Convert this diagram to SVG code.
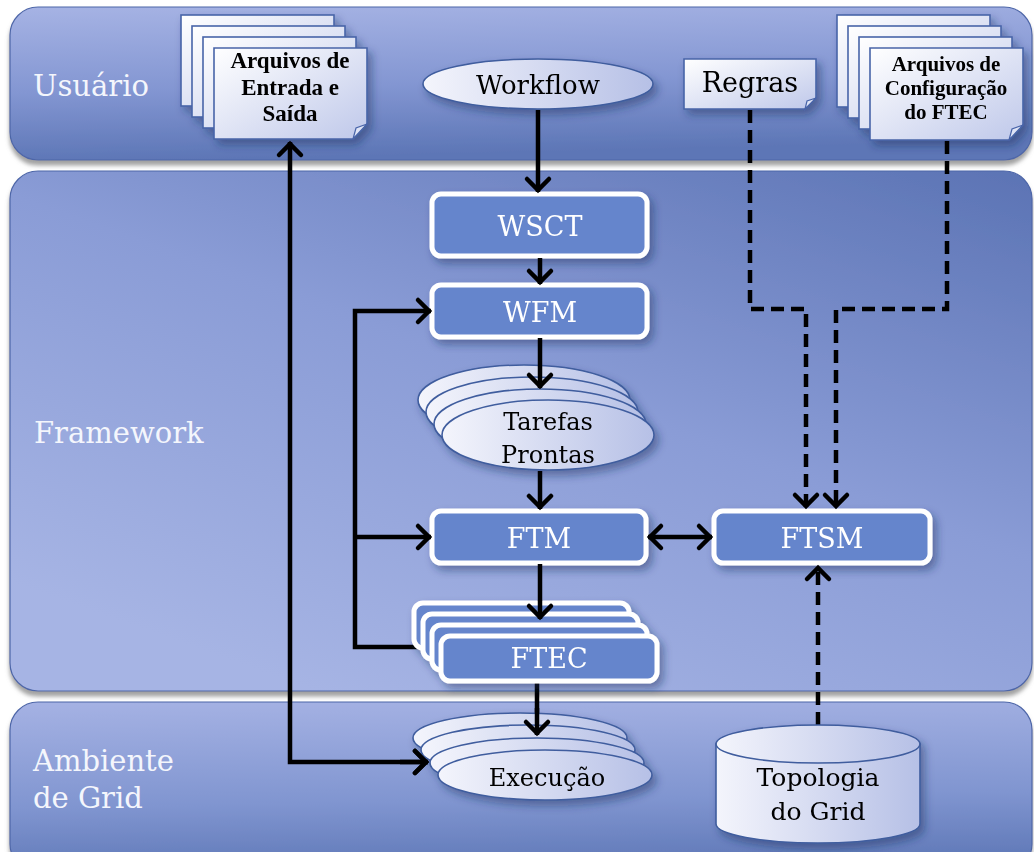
<svg xmlns="http://www.w3.org/2000/svg" width="1034" height="852" viewBox="0 0 1034 852">
<defs>
<style>
.band{stroke:#4d66a8;stroke-width:1.2}
.lbl{font-family:"DejaVu Serif","Liberation Serif",serif;fill:#f4f6fc;font-size:29px}
.box{fill:#6585cc;stroke:#ffffff;stroke-width:5}
.boxt{font-family:"DejaVu Serif","Liberation Serif",serif;fill:#ffffff;font-size:27px;text-anchor:middle}
.sheet{fill:url(#gSheet);stroke:#4864a8;stroke-width:1.6}
.fold{fill:#dfe4f6;stroke:#4864a8;stroke-width:1.2}
.ell{fill:url(#gEll);stroke:#3f5d9e;stroke-width:1.6}
.dt{font-family:"Liberation Serif",serif;font-weight:bold;fill:#000;text-anchor:middle}
.nt{font-family:"DejaVu Serif","Liberation Serif",serif;fill:#000;text-anchor:middle}
.conn{fill:none;stroke:#000;stroke-width:4.5}
.dash{stroke-dasharray:13 7}
</style>
<linearGradient id="gTop" x1="0" y1="0" x2="0.15" y2="1">
<stop offset="0" stop-color="#a6b3e4"/><stop offset="0.55" stop-color="#8396d2"/><stop offset="1" stop-color="#5d76b6"/>
</linearGradient>
<linearGradient id="gMid" x1="1" y1="0" x2="0.3" y2="1">
<stop offset="0" stop-color="#5b73b4"/><stop offset="0.5" stop-color="#8a9cd6"/><stop offset="1" stop-color="#a6b4e4"/>
</linearGradient>
<linearGradient id="gBot" x1="0.2" y1="0" x2="0.3" y2="1">
<stop offset="0" stop-color="#a4b1e3"/><stop offset="0.6" stop-color="#8095d0"/><stop offset="1" stop-color="#5f78b7"/>
</linearGradient>
<linearGradient id="gSheet" x1="0" y1="0" x2="1" y2="1">
<stop offset="0" stop-color="#ffffff"/><stop offset="1" stop-color="#bfc8ea"/>
</linearGradient>
<linearGradient id="gEll" x1="0" y1="0" x2="1" y2="0">
<stop offset="0" stop-color="#f4f5fc"/><stop offset="1" stop-color="#b6c0e6"/>
</linearGradient>
<filter id="bShadow" x="-5%" y="-5%" width="110%" height="115%">
<feDropShadow dx="0" dy="5" stdDeviation="2" flood-color="#8a8a8a" flood-opacity="0.8"/>
</filter>
<filter id="nShadow" x="-20%" y="-20%" width="140%" height="150%">
<feDropShadow dx="4" dy="5" stdDeviation="4" flood-color="#1c2a5c" flood-opacity="0.45"/>
</filter>
<marker id="ah" markerUnits="userSpaceOnUse" markerWidth="40" markerHeight="40" refX="0" refY="0" orient="auto-start-reverse" overflow="visible">
<path d="M-13,-11 L-2,0 L-13,11" fill="none" stroke="#000" stroke-width="4.5" stroke-dasharray="none" stroke-linecap="round"/>
</marker>
</defs>
<rect x="0" y="0" width="1034" height="852" fill="#ffffff"/>

<g id="bands">
<rect class="band" x="10" y="7" width="1022" height="153" rx="28" fill="url(#gTop)" filter="url(#bShadow)"/>
<rect class="band" x="10" y="171" width="1022" height="520" rx="28" fill="url(#gMid)" filter="url(#bShadow)"/>
<rect class="band" x="10" y="702" width="1022" height="170" rx="28" fill="url(#gBot)" filter="url(#bShadow)"/>
<text class="lbl" x="33" y="96">Usuário</text>
<text class="lbl" x="34" y="443" font-size="28">Framework</text>
<text class="lbl" x="33" y="771">Ambiente</text>
<text class="lbl" x="33" y="808">de Grid</text>
</g>

<g id="arquivos-es" filter="url(#nShadow)">
<rect class="sheet" x="181" y="15" width="153" height="91"/>
<rect class="sheet" x="192" y="26" width="153" height="91"/>
<rect class="sheet" x="203" y="37" width="153" height="91"/>
<path class="sheet" d="M214,48 H367 V124 L353,139 H214 Z"/>
<path class="fold" d="M367,124 L356,128 L353,139 Z"/>
<text class="dt" x="290" y="68" font-size="23">Arquivos de</text>
<text class="dt" x="290" y="95" font-size="23">Entrada e</text>
<text class="dt" x="290" y="121" font-size="23">Saída</text>
</g>

<g id="workflow" filter="url(#nShadow)">
<ellipse class="ell" cx="538" cy="84" rx="115" ry="25"/>
<text class="nt" x="538" y="94" font-size="26">Workflow</text>
</g>

<g id="regras" filter="url(#nShadow)">
<path class="sheet" d="M684,59 H816 V98 L805,109 H684 Z"/>
<path class="fold" d="M816,98 L807,101 L805,109 Z"/>
<text class="nt" x="750" y="92" font-size="27">Regras</text>
</g>

<g id="arquivos-config" filter="url(#nShadow)">
<rect class="sheet" x="837" y="15" width="153" height="92"/>
<rect class="sheet" x="848" y="26" width="153" height="92"/>
<rect class="sheet" x="859" y="37" width="153" height="92"/>
<path class="sheet" d="M870,48 H1023 V125 L1009,140 H870 Z"/>
<path class="fold" d="M1023,125 L1012,129 L1009,140 Z"/>
<text class="dt" x="946" y="71" font-size="21">Arquivos de</text>
<text class="dt" x="946" y="95" font-size="21">Configuração</text>
<text class="dt" x="946" y="119" font-size="21">do FTEC</text>
</g>

<g id="wsct" filter="url(#nShadow)">
<rect class="box" x="432" y="194" width="215" height="62" rx="9"/>
<text class="boxt" x="540" y="236">WSCT</text>
</g>

<g id="wfm" filter="url(#nShadow)">
<rect class="box" x="432" y="285" width="215" height="52" rx="9"/>
<text class="boxt" x="540" y="322">WFM</text>
</g>

<g id="tarefas" filter="url(#nShadow)">
<ellipse class="ell" cx="524" cy="400" rx="106" ry="35"/>
<ellipse class="ell" cx="532" cy="412" rx="106" ry="35"/>
<ellipse class="ell" cx="540" cy="424" rx="106" ry="35"/>
<ellipse class="ell" cx="548" cy="435" rx="106" ry="35"/>
<text class="nt" x="548" y="430" font-size="24">Tarefas</text>
<text class="nt" x="548" y="463" font-size="24">Prontas</text>
</g>

<g id="ftm" filter="url(#nShadow)">
<rect class="box" x="432" y="511" width="214" height="52" rx="9"/>
<text class="boxt" x="539" y="548">FTM</text>
</g>

<g id="ftsm" filter="url(#nShadow)">
<rect class="box" x="714" y="511" width="216" height="52" rx="9"/>
<text class="boxt" x="822" y="548">FTSM</text>
</g>

<g id="connectors">
<path class="conn" d="M538,110 V192" marker-end="url(#ah)"/>
<path class="conn" d="M540,258 V284" marker-end="url(#ah)"/>
<path class="conn" d="M540,338 V388" marker-end="url(#ah)"/>
<path class="conn" d="M540,471 V509" marker-end="url(#ah)"/>
<path class="conn" d="M540,564 V619" marker-end="url(#ah)"/>
<path class="conn" d="M537,682 V735" marker-end="url(#ah)"/>
<path class="conn" d="M420,647 H355 V311 H431" marker-end="url(#ah)"/>
<path class="conn" d="M355,537 H431" marker-end="url(#ah)"/>
<path class="conn" d="M290,142 V762 H428" marker-start="url(#ah)" marker-end="url(#ah)"/>
<path class="conn" d="M648,537 H712" marker-start="url(#ah)" marker-end="url(#ah)"/>
<path class="conn dash" d="M750,110 V309 H806 V508" marker-end="url(#ah)"/>
<path class="conn dash" d="M947,141 V309 H836 V508" marker-end="url(#ah)"/>
<path class="conn dash" d="M818,725 V566" marker-end="url(#ah)"/>
</g>

<g id="ftec" filter="url(#nShadow)">
<rect class="box" x="414" y="603" width="215" height="45" rx="9"/>
<rect class="box" x="423" y="614" width="215" height="45" rx="9"/>
<rect class="box" x="432" y="625" width="215" height="45" rx="9"/>
<rect class="box" x="441" y="636" width="216" height="45" rx="9"/>
<text class="boxt" x="549" y="668">FTEC</text>
</g>
<path class="conn" d="M540,600 V619" marker-end="url(#ah)"/>

<g id="execucao" filter="url(#nShadow)">
<ellipse class="ell" cx="520" cy="738" rx="107" ry="25"/>
<ellipse class="ell" cx="528" cy="750" rx="107" ry="25"/>
<ellipse class="ell" cx="537" cy="763" rx="107" ry="25"/>
<ellipse class="ell" cx="545" cy="775" rx="107" ry="25"/>
<text class="nt" x="547" y="786" font-size="24">Execução</text>
</g>
<path class="conn" d="M537,708 V735" marker-end="url(#ah)"/>
<path class="conn" d="M400,762 H428" marker-end="url(#ah)"/>

<g id="topologia" filter="url(#nShadow)">
<path class="ell" d="M716,744 V824 A102,19 0 0 0 920,824 V744 Z"/>
<ellipse class="ell" cx="818" cy="744" rx="102" ry="19"/>
<text class="nt" x="818" y="786" font-size="25">Topologia</text>
<text class="nt" x="818" y="820" font-size="25">do Grid</text>
</g>
</svg>
